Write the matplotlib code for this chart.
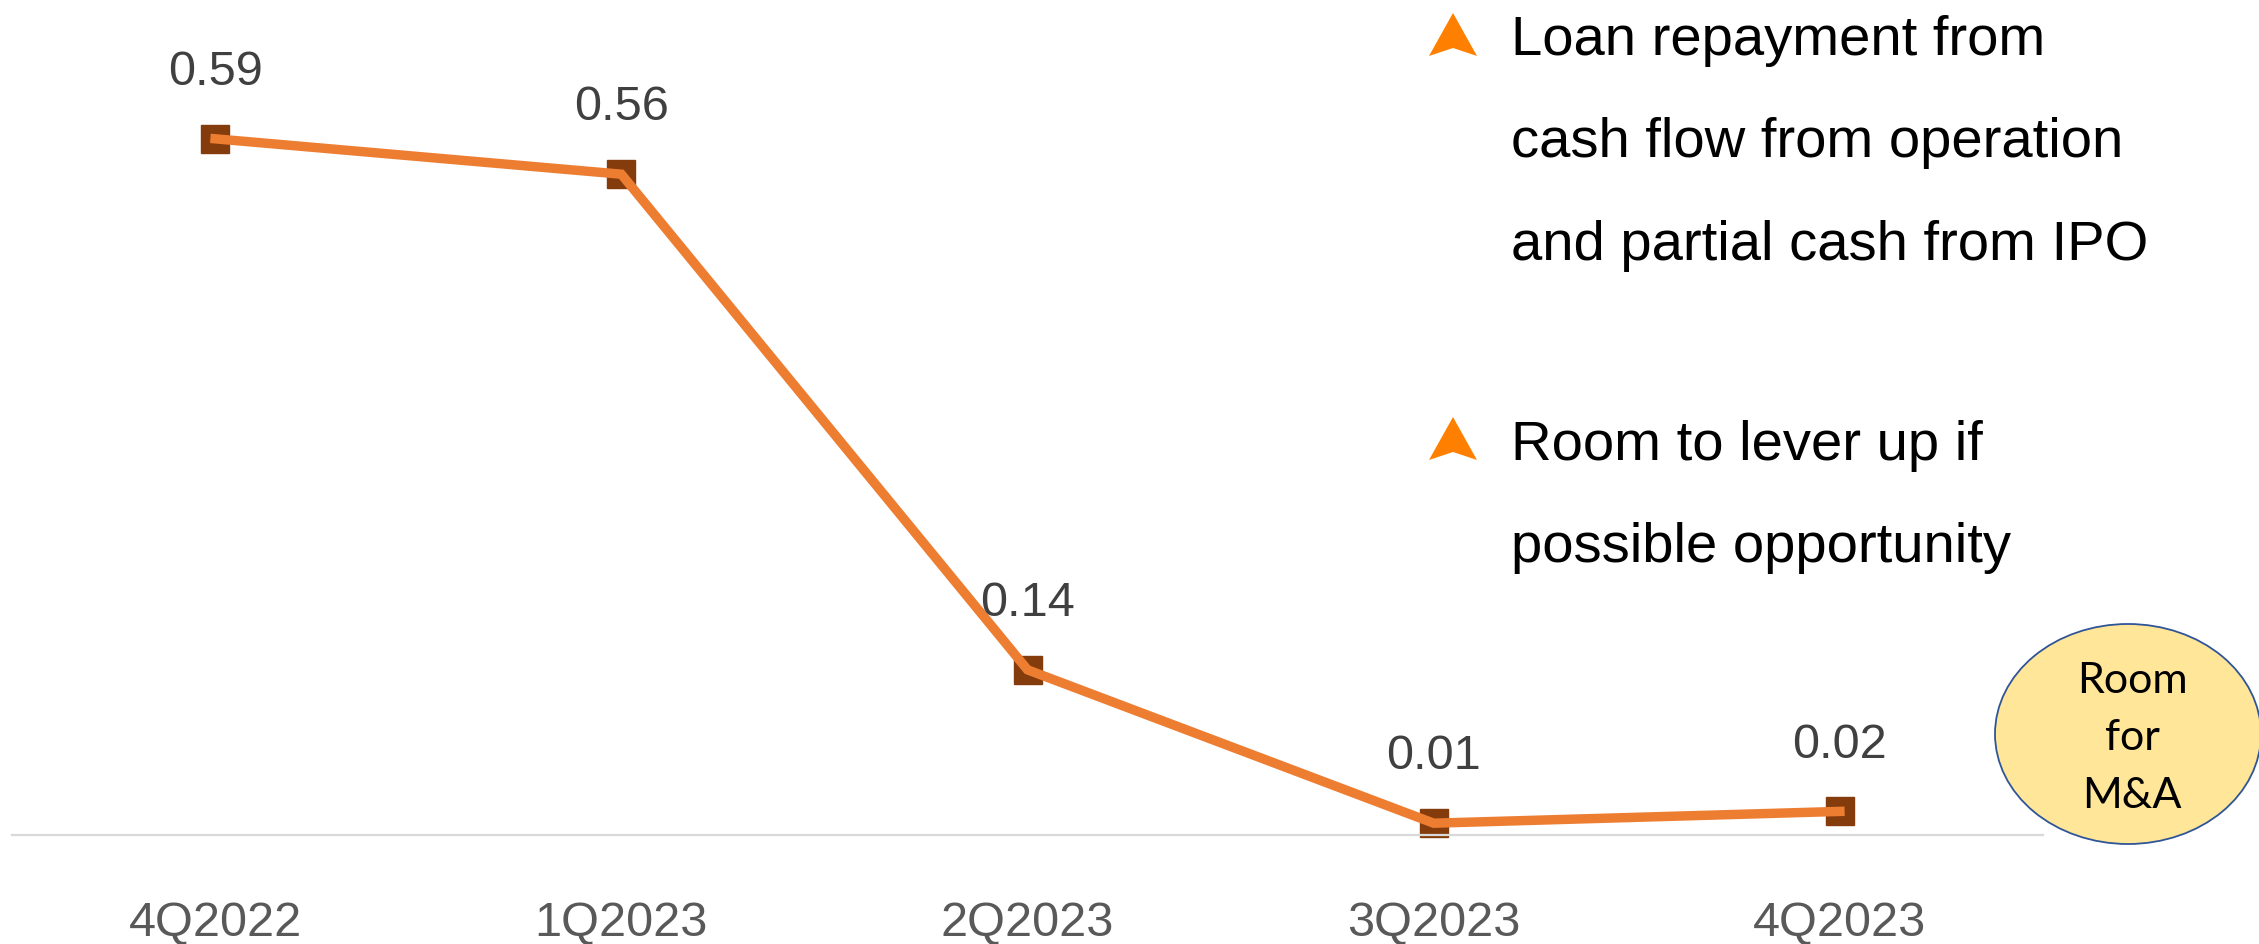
import matplotlib
matplotlib.use("Agg")
import matplotlib.pyplot as plt
from matplotlib.patches import Ellipse, Polygon

# ---- data ----
quarters = ["4Q2022", "1Q2023", "2Q2023", "3Q2023", "4Q2023"]
ratio = [0.59, 0.56, 0.14, 0.01, 0.02]
value_labels = ["0.59", "0.56", "0.14", "0.01", "0.02"]
bullet_1 = ["Loan repayment from", "cash flow from operation", "and partial cash from IPO"]
bullet_2 = ["Room to lever up if", "possible opportunity"]
bubble_lines = ["Room", "for", "M&A"]

W, H = 2259, 945
fig = plt.figure(figsize=(W / 100, H / 100), dpi=100)
fig.patch.set_facecolor("white")

def fx(px):
    return px / W

def fy(py):
    return 1 - py / H

ax = fig.add_axes([fx(12), fy(836), 2031 / W, 826 / H])
x = list(range(len(quarters)))
ax.plot(x, ratio, linestyle="none", marker="s", markersize=19.5,
        color="#843C0C", zorder=2, clip_on=False)
ax.plot(x, ratio, color="#ED7D31", lw=6.8, zorder=3, clip_on=False,
        solid_joinstyle="miter")
ax.set_xlim(-0.5, len(quarters) - 0.5)
ax.set_ylim(0, 0.7)

for xi, v, lab in zip(x, ratio, value_labels):
    ax.annotate(lab, (xi, v), xytext=(0, 39.5), textcoords="offset points",
                ha="center", va="baseline", fontsize=35,
                family="Liberation Sans", color="#404040")

ax.set_xticks(x)
ax.set_xticklabels(quarters, fontsize=35, family="Liberation Sans", color="#595959")
ax.tick_params(axis="x", length=0, pad=47)
ax.set_yticks([])
for s in ["left", "right", "top"]:
    ax.spines[s].set_visible(False)
ax.spines["bottom"].set_color("#D9D9D9")
ax.spines["bottom"].set_linewidth(1.6)
ax.set_facecolor("none")

# ---- right-hand bullet text ----
def bullet(top_px, bottom_px, cx_px=1453, half_w=24):
    notch = bottom_px - 8
    pts = [(fx(cx_px), fy(top_px)), (fx(cx_px + half_w), fy(bottom_px)),
           (fx(cx_px), fy(notch)), (fx(cx_px - half_w), fy(bottom_px))]
    fig.patches.append(Polygon(pts, closed=True, transform=fig.transFigure,
                               facecolor="#FF8000", edgecolor="none"))

bullet(14, 57)
bullet(418, 461)

for line, base in zip(bullet_1, [55, 157, 260]):
    fig.text(fx(1511), fy(base), line, fontsize=40.5, family="Liberation Sans",
             color="black", ha="left", va="baseline")
for line, base in zip(bullet_2, [460, 562]):
    fig.text(fx(1511), fy(base), line, fontsize=40.5, family="Liberation Sans",
             color="black", ha="left", va="baseline")

# ---- bubble ----
ell = Ellipse((fx(2128), fy(735)), 266 / W, 220 / H, transform=fig.transFigure,
              facecolor="#FFE699", edgecolor="#2F5597", lw=1.3)
fig.patches.append(ell)
for line, base in zip(bubble_lines, [693, 750, 808]):
    fig.text(fx(2132), fy(base), line, fontsize=31, family="Lato",
             color="black", ha="center", va="baseline")

fig.savefig("out.png", dpi=100)
